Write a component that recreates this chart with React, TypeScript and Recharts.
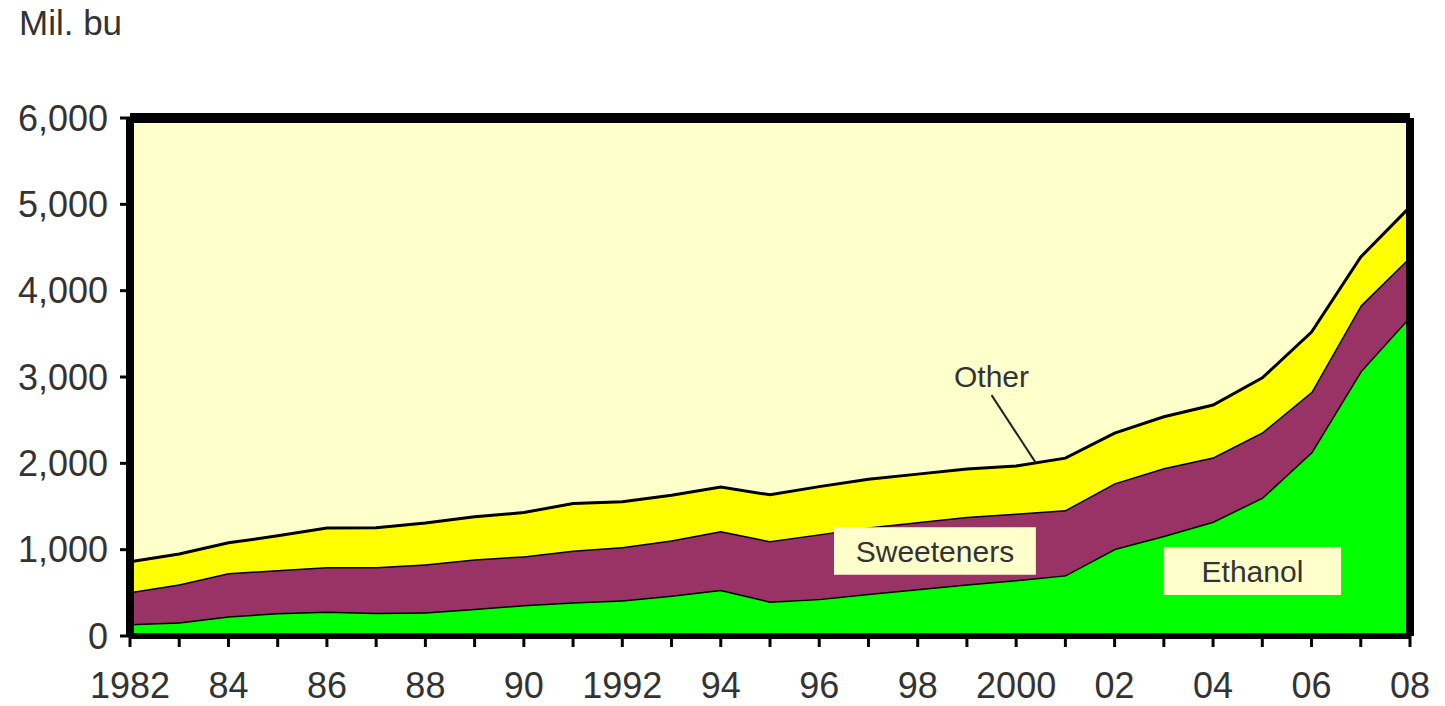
import { AreaChart, Area, XAxis, YAxis, CartesianGrid, ReferenceArea, ReferenceLine, ReferenceDot } from "recharts";

const years = [
  1982, 1983, 1984, 1985, 1986, 1987, 1988, 1989, 1990, 1991, 1992, 1993, 1994,
  1995, 1996, 1997, 1998, 1999, 2000, 2001, 2002, 2003, 2004, 2005, 2006, 2007, 2008,
];
const ethanol = [
  140, 160, 230, 265, 285, 270, 275, 315, 360, 390, 415, 470, 535,
  400, 430, 490, 545, 600, 650, 705, 1010, 1160, 1325, 1605, 2130, 3070, 3700,
];
const sweeteners = [
  370, 440, 500, 500, 515, 530, 555, 575, 565, 600, 615, 640, 680,
  700, 750, 770, 775, 780, 770, 755, 760, 785, 745, 755, 700, 760, 690,
];
const other = [
  350, 350, 350, 395, 450, 455, 480, 490, 505, 545, 525, 520, 510,
  535, 550, 555, 555, 555, 550, 600, 580, 595, 605, 630, 690, 560, 580,
];
const xTickLabels = [
  "1982", "", "84", "", "86", "", "88", "", "90", "", "1992", "", "94",
  "", "96", "", "98", "", "2000", "", "02", "", "04", "", "06", "", "08",
];
const yTicks = [0, 1000, 2000, 3000, 4000, 5000, 6000];

const data = years.map((year, i) => ({
  year,
  ethanol: ethanol[i],
  sweeteners: sweeteners[i],
  other: other[i],
}));

const font = "'Liberation Sans', Arial, sans-serif";
const textColor = "#333333";
const tickStyle = { fontSize: 36, fill: textColor, fontFamily: font };
const noteStyle = { fontSize: 30, fill: textColor, fontFamily: font };

export default function App() {
  return (
    <div style={{ position: "relative", fontFamily: font }}>
      <div style={{ position: "absolute", left: 11, top: -5, fontSize: 35, color: textColor }}>Mil. bu</div>
      <AreaChart width={1437} height={698} data={data} margin={{ top: 0, right: 0, bottom: 0, left: 0 }}>
        <CartesianGrid horizontal={false} vertical={false} fill="#FFFFCC" />
        <XAxis
          dataKey="year"
          type="number"
          domain={[1982, 2008]}
          ticks={years}
          interval={0}
          tickFormatter={(v: number) => xTickLabels[years.indexOf(v)] ?? ""}
          height={70}
          tick={tickStyle}
          tickSize={11}
          tickMargin={25}
          axisLine={{ stroke: "#000", strokeWidth: 6 }}
          tickLine={{ stroke: "#000", strokeWidth: 3 }}
        />
        <XAxis xAxisId="top" orientation="top" type="number" domain={[1982, 2008]} height={110} tick={false} tickLine={false} axisLine={{ stroke: "#000", strokeWidth: 10 }} />
        <YAxis
          domain={[0, 6000]}
          ticks={yTicks}
          width={122}
          tick={tickStyle}
          tickFormatter={(v: number) => v.toLocaleString("en-US")}
          tickSize={10}
          tickMargin={12}
          axisLine={{ stroke: "#000", strokeWidth: 8 }}
          tickLine={{ stroke: "#000", strokeWidth: 3 }}
        />
        <YAxis yAxisId="right" orientation="right" domain={[0, 6000]} width={35} tick={false} tickLine={false} axisLine={{ stroke: "#000", strokeWidth: 8 }} />
        <Area type="linear" dataKey="ethanol" stackId="1" fill="#00FF00" fillOpacity={1} stroke="#000" strokeWidth={3} isAnimationActive={false} />
        <Area type="linear" dataKey="sweeteners" stackId="1" fill="#993366" fillOpacity={1} stroke="#000" strokeWidth={3} isAnimationActive={false} />
        <Area type="linear" dataKey="other" stackId="1" fill="#FFFF00" fillOpacity={1} stroke="#000" strokeWidth={3} isAnimationActive={false} />
        <ReferenceArea
          x1={1996.3}
          x2={2000.4}
          y1={710}
          y2={1260}
          fill="#FFFFCC"
          fillOpacity={1}
          stroke="none"
          label={{ value: "Sweeteners", position: "center", ...noteStyle }}
        />
        <ReferenceArea
          x1={2003}
          x2={2006.6}
          y1={475}
          y2={1030}
          fill="#FFFFCC"
          fillOpacity={1}
          stroke="none"
          label={{ value: "Ethanol", position: "center", ...noteStyle }}
        />
        <ReferenceLine
          segment={[{ x: 1999.5, y: 2790 }, { x: 2000.4, y: 2005 }]}
          stroke="#222"
          strokeWidth={2}
        />
        <ReferenceDot
          x={1999.5}
          y={3010}
          r={1}
          fill="none"
          stroke="none"
          label={{ value: "Other", position: "center", ...noteStyle }}
        />
      </AreaChart>
    </div>
  );
}
